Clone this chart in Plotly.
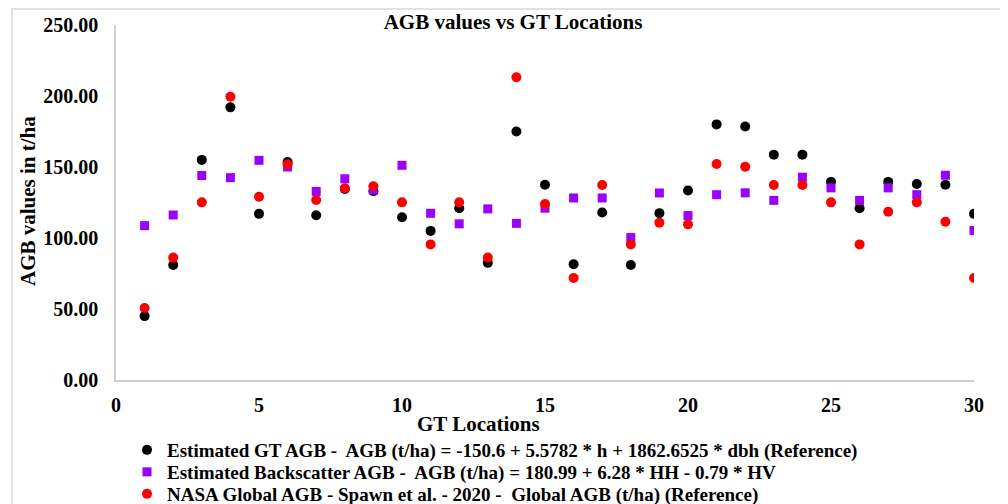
import plotly.graph_objects as go

locations = list(range(1, 31))
gt_agb = [45, 81, 155, 192, 117, 153.5, 116, 134.5, 133, 114.6,
          105, 121, 82.5, 175, 137.5, 81.5, 118, 81, 117.5, 133.5,
          180, 178.5, 158.7, 158.7, 139.5, 121, 139.5, 138, 137.5, 117]
backscatter_agb = [108.7, 116.2, 144, 142.5, 154.7, 150, 132.8, 141.7, 133.8, 151.2,
                   117.4, 110, 120.5, 110.3, 121, 128.2, 128.2, 100.3, 131.7, 115.8,
                   130.5, 131.8, 126.5, 142.8, 135.3, 126.5, 135.3, 130.5, 144.2, 105.3]
nasa_agb = [50.7, 86.2, 125.1, 199.5, 129.1, 151.9, 126.8, 135, 136.4, 125.1,
            95.5, 125.1, 86.2, 213.2, 123.9, 71.8, 137.3, 95.5, 110.8, 109.6,
            152.1, 150.2, 137.3, 137.3, 125.1, 95.5, 118.5, 125.1, 111.5, 71.8]

names = [
    "Estimated GT AGB -  AGB (t/ha) = -150.6 + 5.5782 * h + 1862.6525 * dbh (Reference)",
    "Estimated Backscatter AGB -  AGB (t/ha) = 180.99 + 6.28 * HH - 0.79 * HV",
    "NASA Global AGB - Spawn et al. - 2020 -  Global AGB (t/ha) (Reference)",
]

FONT = "Liberation Serif"
OFF = 8  # page body margin
W, H = 1008 - OFF, 504 - OFF
L, T = 116 - OFF, 25 - OFF
R = W - (974 - OFF)
B = H - (380 - OFF)
PW, PH = W - L - R, H - T - B


def px(xr):
    return (xr - OFF - L) / PW


def py(yr):
    return (T + PH - (yr - OFF)) / PH


def cy(yr):
    return 1 - (yr - OFF) / H


fig = go.Figure()
fig.add_trace(go.Scatter(x=locations, y=gt_agb, mode="markers", name=names[0], legend="legend",
                         marker=dict(symbol="circle", size=10, color="#000000", line=dict(width=0))))
fig.add_trace(go.Scatter(x=locations, y=backscatter_agb, mode="markers", name=names[1], legend="legend2",
                         marker=dict(symbol="square", size=9, color="#9900FF", line=dict(width=0))))
fig.add_trace(go.Scatter(x=locations, y=nasa_agb, mode="markers", name=names[2], legend="legend3",
                         marker=dict(symbol="circle", size=10, color="#FF0000", line=dict(width=0))))

# outer chart border
fig.add_shape(type="rect", xref="paper", yref="paper",
              x0=px(12), x1=px(1001), y0=py(530), y1=py(9),
              line=dict(color="#D9D9D9", width=1.5), fillcolor="rgba(0,0,0,0)", layer="below")

# axis titles
fig.add_annotation(text="<b>GT Locations</b>", xref="paper", yref="paper",
                   x=px(478), y=py(424), xanchor="center", yanchor="middle",
                   showarrow=False, font=dict(family=FONT, size=21, color="#000000"))
fig.add_annotation(text="<b>AGB values in t/ha</b>", xref="paper", yref="paper",
                   x=px(28), y=py(201), xanchor="center", yanchor="middle",
                   textangle=-90, showarrow=False, font=dict(family=FONT, size=21, color="#000000"))

leg_common = dict(orientation="v", xref="container", x=(127 - OFF) / W, xanchor="left",
                  yref="container", yanchor="middle",
                  font=dict(family=FONT, size=19, color="#000000", weight="bold"),
                  bgcolor="rgba(0,0,0,0)", itemwidth=30)

fig.update_layout(
    width=W, height=H,
    margin=dict(l=L, r=R, t=T, b=B, autoexpand=False),
    paper_bgcolor="white", plot_bgcolor="white",
    font=dict(family=FONT, size=16, color="#000000"),
    title=dict(text="<b>AGB values vs GT Locations</b>", x=(513 - OFF) / W, xref="container",
               xanchor="center", y=cy(22), yref="container", yanchor="middle",
               font=dict(family=FONT, size=21, color="#000000")),
    showlegend=True,
    legend=dict(y=cy(450), **leg_common),
    legend2=dict(y=cy(472), **leg_common),
    legend3=dict(y=cy(494), **leg_common),
)

fig.update_xaxes(range=[0, 30], dtick=5, tick0=0, showgrid=False, zeroline=False,
                 showline=True, linecolor="#D0D0D0", linewidth=1.5, automargin=False,
                 ticks="", ticklabelstandoff=6,
                 tickfont=dict(family=FONT, size=20, color="#000000", weight="bold"))
fig.update_yaxes(range=[0, 250], dtick=50, tick0=0, tickformat=".2f", showgrid=False, zeroline=False,
                 showline=True, linecolor="#D0D0D0", linewidth=1.5, automargin=False,
                 ticks="", ticklabelstandoff=12,
                 tickfont=dict(family=FONT, size=20, color="#000000", weight="bold"))

fig.write_html("out.html")
